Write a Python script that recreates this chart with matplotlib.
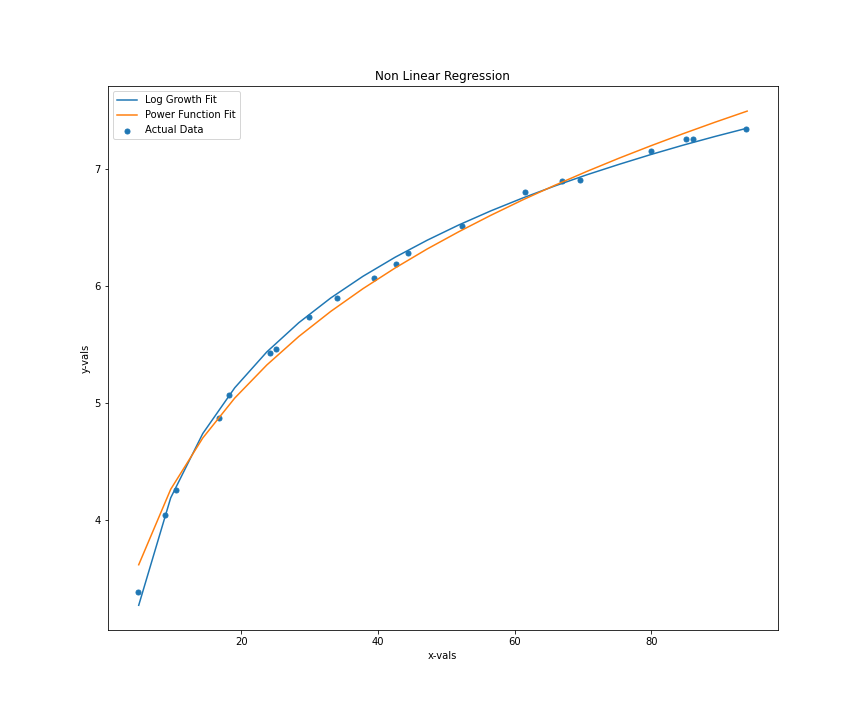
import numpy as np
import matplotlib.pyplot as plt

# observed points
x_vals = [4.96, 8.9, 10.5, 16.8, 18.2, 24.2, 25.1, 29.9, 34.0, 39.4,
          42.6, 44.4, 52.3, 61.5, 66.9, 69.5, 79.9, 85.1, 86.1, 93.9]
y_vals = [3.385, 4.043, 4.256, 4.872, 5.068, 5.427, 5.462, 5.735, 5.895, 6.068,
          6.188, 6.282, 6.513, 6.803, 6.897, 6.906, 7.154, 7.256, 7.256, 7.342]

# fitted curves
x_fit = [5.0, 9.68, 14.37, 19.05, 23.74, 28.42, 33.1, 37.8, 42.5, 47.2,
         51.8, 56.5, 61.2, 65.9, 70.6, 75.3, 79.9, 84.6, 89.3, 94.0]
log_fit = [3.267, 4.187, 4.737, 5.129, 5.436, 5.686, 5.898, 6.083, 6.246, 6.392,
           6.522, 6.643, 6.754, 6.857, 6.953, 7.042, 7.125, 7.205, 7.280, 7.351]
pow_fit = [3.614, 4.260, 4.699, 5.041, 5.324, 5.568, 5.783, 5.977, 6.154, 6.317,
           6.464, 6.605, 6.738, 6.863, 6.982, 7.095, 7.200, 7.303, 7.402, 7.497]

plt.figure(figsize=(12, 10), dpi=72)
plt.subplots_adjust(bottom=0.125, top=0.88)
plt.plot(x_fit, log_fit, label='Log Growth Fit')
plt.plot(x_fit, pow_fit, label='Power Function Fit')
plt.scatter(x_vals, y_vals, s=25, label='Actual Data')
plt.title('Non Linear Regression')
plt.xlabel('x-vals')
plt.ylabel('y-vals')
plt.legend(loc='upper left')

plt.savefig('out.png', dpi=72)
